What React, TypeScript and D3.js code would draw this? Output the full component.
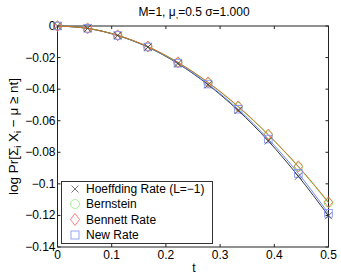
import React from 'react';
import * as d3 from 'd3';

// t grid (n = 10 points, step 1/18)
const tValues = [0, 0.0556, 0.1111, 0.1667, 0.2222, 0.2778, 0.3333, 0.3889, 0.4444, 0.5];

// log-probability bounds
const hoeffding = [0, -0.0015, -0.0060, -0.0134, -0.0238, -0.0372, -0.0535, -0.0728, -0.0952, -0.1202];
const bernstein = [0, -0.0015, -0.0059, -0.0131, -0.0231, -0.0358, -0.0511, -0.0690, -0.0892, -0.1120];
const bennett = [0, -0.0015, -0.0059, -0.0130, -0.0230, -0.0357, -0.0509, -0.0688, -0.0889, -0.1116];
const newRate = [0, -0.0015, -0.0060, -0.0133, -0.0236, -0.0368, -0.0527, -0.0716, -0.0934, -0.1187];

const xTicks = [0, 0.1, 0.2, 0.3, 0.4, 0.5];
const yTicks = [0, -0.02, -0.04, -0.06, -0.08, -0.1, -0.12, -0.14];

const W = 341;
const H = 276;
const FONT = 'Liberation Sans, Arial, Helvetica, sans-serif';

const fmt = (v: number) => (v === 0 ? '0' : String(v).replace('-', '\u2212'));

export default function App() {
  const x = d3.scaleLinear().domain([0, 0.5]).range([57.5, 328.5]);
  const y = d3.scaleLinear().domain([-0.14, 0]).range([247, 26]);

  const line = d3.line<number>()
    .x((_, i) => x(tValues[i]))
    .y(d => y(d))
    .curve(d3.curveMonotoneX);

  const [x0, x1] = x.range();
  const [y0, y1] = y.range();

  const cross = (cx: number, cy: number, s: number) =>
    `M${cx - s},${cy - s}L${cx + s},${cy + s}M${cx - s},${cy + s}L${cx + s},${cy - s}`;
  const diamond = (cx: number, cy: number, s: number) =>
    `M${cx},${cy - s}L${cx + s * 0.75},${cy}L${cx},${cy + s}L${cx - s * 0.75},${cy}Z`;

  // legend layout
  const lgX = 61.5, lgY = 181.5, lgW = 151, lgH = 62;
  const rows = [189, 204, 219.5, 235];

  return (
    <svg width={W} height={H} style={{ position: 'absolute', left: 0, top: 0, background: '#fff' }} fontFamily={FONT}>
      <rect x={0} y={0} width={W} height={H} fill="#fff" />

      {/* title */}
      <text x={194} y={16} fontSize={12} textAnchor="middle" fill="#000">
        M=1, μ<tspan fontSize={9} dy={2}>,</tspan><tspan dy={-2}>=0.5 σ=1.000</tspan>
      </text>

      {/* axis box */}
      <rect x={x0} y={y1} width={x1 - x0} height={y0 - y1} fill="none" stroke="#222" strokeWidth={1} />

      {/* x ticks */}
      {xTicks.map(t => (
        <g key={'xt' + t}>
          <line x1={x(t)} x2={x(t)} y1={y0} y2={y0 - 3} stroke="#222" />
          <line x1={x(t)} x2={x(t)} y1={y1} y2={y1 + 3} stroke="#222" />
          <text x={x(t)} y={y0 + 12} fontSize={12} textAnchor="middle" fill="#000">{fmt(t)}</text>
        </g>
      ))}

      {/* y ticks */}
      {yTicks.map(v => (
        <g key={'yt' + v}>
          <line x1={x0} x2={x0 + 3} y1={y(v)} y2={y(v)} stroke="#222" />
          <line x1={x1} x2={x1 - 3} y1={y(v)} y2={y(v)} stroke="#222" />
          <text x={x0 - 2} y={y(v) + 4} fontSize={12} textAnchor="end" fill="#000">{fmt(v)}</text>
        </g>
      ))}

      {/* axis labels */}
      <text x={194} y={272} fontSize={12} textAnchor="middle" fill="#000">t</text>
      <text transform={`translate(18,${(y0 + y1) / 2}) rotate(-90)`} fontSize={13.5} textAnchor="middle" fill="#000">
        log Pr[Σ<tspan fontSize={9} dy={3}>i</tspan><tspan dy={-3}> X</tspan>
        <tspan fontSize={9} dy={3}>i</tspan><tspan dy={-3}> − μ ≥ nt]</tspan>
      </text>

      {/* lines */}
      <path d={line(hoeffding) || ''} fill="none" stroke="#222" strokeWidth={0.9} />
      <path d={line(newRate) || ''} fill="none" stroke="#5a78ff" strokeWidth={0.9} />
      <path d={line(bernstein) || ''} fill="none" stroke="#40d040" strokeWidth={0.9} />
      <path d={line(bennett) || ''} fill="none" stroke="#ff5010" strokeWidth={0.9} opacity={0.85} />

      {/* markers */}
      {tValues.map((t, i) => (
        <g key={'m' + i} fill="none" strokeWidth={0.8}>
          <circle cx={x(t)} cy={y(bernstein[i])} r={4.2} stroke="#80e060" />
          <path d={diamond(x(t), y(bennett[i]), 5.5)} stroke="#ff5a3c" />
          <rect x={x(t) - 3.8} y={y(newRate[i]) - 3.8} width={7.6} height={7.6} stroke="#7c8cff" />
          <path d={cross(x(t), y(hoeffding[i]), 3.5)} stroke="#333" />
        </g>
      ))}

      {/* legend */}
      <rect x={lgX} y={lgY} width={lgW} height={lgH} fill="#fff" stroke="#333" strokeWidth={1} />
      <path d={cross(75, rows[0], 3.5)} stroke="#555" fill="none" strokeWidth={0.8} />
      <circle cx={75} cy={rows[1]} r={4.5} stroke="#90f080" fill="none" strokeWidth={0.8} />
      <path d={diamond(75, rows[2], 6)} stroke="#ff6060" fill="none" strokeWidth={0.8} />
      <rect x={71} y={rows[3] - 4} width={8} height={8} stroke="#8090ff" fill="none" strokeWidth={0.8} />
      {['Hoeffding Rate (L=\u22121)', 'Bernstein', 'Bennett Rate', 'New Rate'].map((s, i) => (
        <text key={s} x={86} y={rows[i] + 4} fontSize={12} fill="#000">{s}</text>
      ))}
    </svg>
  );
}
